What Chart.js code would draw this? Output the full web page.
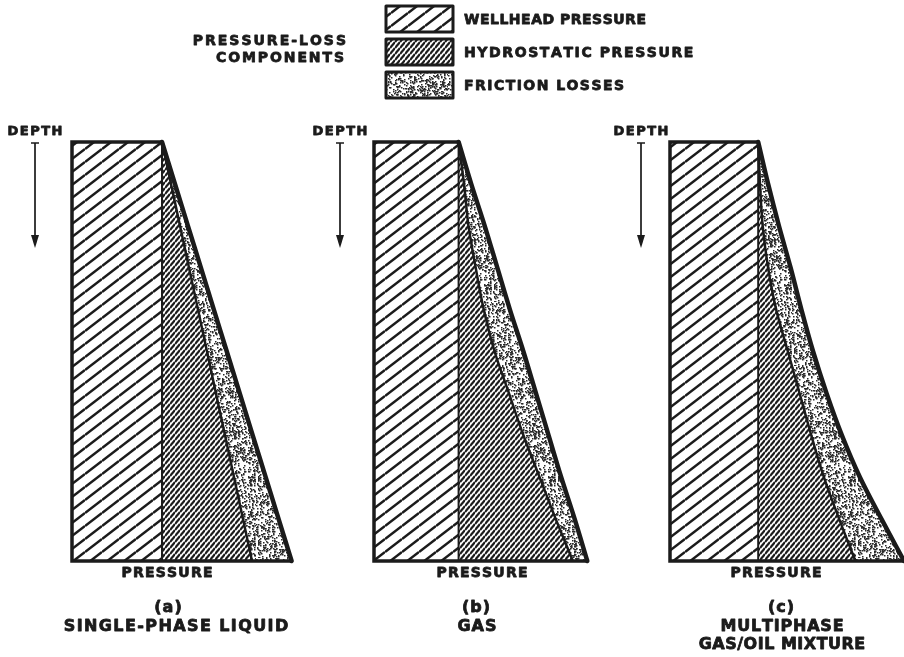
<!DOCTYPE html>
<html>
<head>
<meta charset="utf-8">
<script src="https://cdn.jsdelivr.net/npm/chart.js@4.4.1/dist/chart.umd.min.js"></script>
<style>
  html, body { margin: 0; padding: 0; background: #fff; }
  #wrap { position: relative; width: 904px; height: 657px; overflow: hidden; }
  #wrap canvas { position: absolute; }
</style>
</head>
<body>
<div id="wrap">
  <canvas id="legend" width="904" height="110" style="left:0;top:0"></canvas>
  <canvas id="panelA" width="300" height="547" style="left:0;top:110px"></canvas>
  <canvas id="panelB" width="300" height="547" style="left:300px;top:110px"></canvas>
  <canvas id="panelC" width="304" height="547" style="left:600px;top:110px"></canvas>
</div>
<script>
// depth in % of well depth, pressure in relative units (wellhead ~ 100)
var depth = [0, 10, 20, 30, 40, 50, 60, 70, 80, 90, 100];

// (a) single-phase liquid
var wellheadA = 100;
var hydroA    = [0, 10, 20, 30, 40, 50, 60, 70, 80, 90, 100];
var frictionA = [0, 4.4, 8.8, 13.2, 17.6, 22, 26.4, 30.8, 35.2, 39.6, 44];

// (b) gas
var wellheadB = 94;
var hydroB    = [0, 6, 11, 19, 28, 40, 56, 72, 90, 108, 127];
var frictionB = [0, 8, 18, 24, 29, 32, 30, 28, 24, 21, 16];

// (c) multiphase gas/oil mixture
var wellheadC = 98;
var hydroC    = [0, 2, 5, 11, 20, 33, 46, 59, 73, 90, 108];
var frictionC = [0, 9, 18, 25, 28, 28, 30, 34, 40, 47, 54];

var legendLabels = ['WELLHEAD PRESSURE', 'HYDROSTATIC PRESSURE', 'FRICTION LOSSES'];

var INK = '#1b1b1b';
var FONT = '"DejaVu Sans", "Liberation Sans", sans-serif';

// ---- fill patterns ----
function hatch(w, h, lw) {
  var c = document.createElement('canvas');
  c.width = w; c.height = h;
  var g = c.getContext('2d');
  g.strokeStyle = INK;
  g.lineWidth = lw;
  [-1, 0, 1].forEach(function (k) {
    g.beginPath();
    g.moveTo(0, h + k * h);
    g.lineTo(w, k * h);
    g.stroke();
  });
  return g.createPattern(c, 'repeat');
}

function stipple(size, n) {
  var c = document.createElement('canvas');
  c.width = size; c.height = size;
  var g = c.getContext('2d');
  g.fillStyle = '#2a2a2a';
  var s = 12345;
  function rnd() { s = (s * 1103515245 + 12345) % 2147483648; return s / 2147483648; }
  for (var i = 0; i < n; i++) {
    g.fillRect(Math.floor(rnd() * size), Math.floor(rnd() * size), 1.5, 1.5);
  }
  return g.createPattern(c, 'repeat');
}

var wideHatch = hatch(17, 13, 2.5);
var fineHatch = hatch(5, 6, 2.2);
var dots = stipple(64, 900);

function spacedText(ctx, text, x, y, spacing, align) {
  var chars = text.split('');
  var widths = chars.map(function (ch) { return ctx.measureText(ch).width; });
  var total = widths.reduce(function (a, b) { return a + b; }, 0) + spacing * (chars.length - 1);
  var px = align === 'center' ? x - total / 2 : (align === 'right' ? x - total : x);
  ctx.textAlign = 'left';
  ctx.textBaseline = 'middle';
  ctx.lineWidth = 0.8;
  ctx.lineJoin = 'round';
  chars.forEach(function (ch, i) {
    ctx.fillText(ch, px, y);
    ctx.strokeText(ch, px, y);
    px += widths[i] + spacing;
  });
}

// ---- legend block ----
(function () {
  var ctx = document.getElementById('legend').getContext('2d');
  ctx.fillStyle = INK;
  ctx.strokeStyle = INK;
  ctx.font = 'bold 14px ' + FONT;
  spacedText(ctx, 'PRESSURE-LOSS', 346, 41, 2, 'right');
  spacedText(ctx, 'COMPONENTS', 344, 58, 1.9, 'right');
  var fills = [wideHatch, fineHatch, dots];
  var boxY = [6, 39, 72];
  var textY = [20, 53, 86];
  var spacing = [0.5, 1.6, 1.45];
  for (var i = 0; i < 3; i++) {
    ctx.fillStyle = fills[i];
    ctx.fillRect(386, boxY[i], 67, 26);
    ctx.strokeStyle = INK;
    ctx.lineWidth = 3;
    ctx.strokeRect(386, boxY[i], 67, 26);
    ctx.fillStyle = INK;
    spacedText(ctx, legendLabels[i], 464, textY[i], spacing[i], 'left');
  }
})();

// ---- panels ----
function decor(p) {
  return {
    id: 'decor',
    afterDraw: function (chart) {
      var ctx = chart.ctx, a = chart.chartArea;
      ctx.save();
      ctx.fillStyle = INK;
      ctx.strokeStyle = INK;
      ctx.font = 'bold 13px ' + FONT;
      spacedText(ctx, 'DEPTH', p.arrowX, a.top - 10, 1.5, 'center');
      // depth arrow
      var top = a.top + 1, bot = a.top + 106;
      ctx.lineWidth = 1.7;
      ctx.beginPath();
      ctx.moveTo(p.arrowX - 4, top); ctx.lineTo(p.arrowX + 4, top);
      ctx.moveTo(p.arrowX, top); ctx.lineTo(p.arrowX, bot - 10);
      ctx.stroke();
      ctx.beginPath();
      ctx.moveTo(p.arrowX - 4, bot - 13);
      ctx.lineTo(p.arrowX + 4, bot - 13);
      ctx.lineTo(p.arrowX, bot);
      ctx.closePath();
      ctx.fill();
      ctx.font = 'bold 14px ' + FONT;
      spacedText(ctx, 'PRESSURE', p.labelX, a.bottom + 12, 1.2, 'center');
      ctx.font = 'bold 16px ' + FONT;
      p.caption.forEach(function (line, i) {
        spacedText(ctx, line, p.capX[i], a.bottom + 47 + i * 18.5, p.capSp[i], 'center');
      });
      ctx.restore();
    }
  };
}

function makePanel(id, wellhead, hydro, friction, p) {
  var last = depth.length - 1;
  var wh = depth.map(function (d) { return {x: wellhead, y: d}; });
  var hy = depth.map(function (d, i) { return {x: wellhead + hydro[i], y: d}; });
  var tot = depth.map(function (d, i) { return {x: wellhead + hydro[i] + friction[i], y: d}; });
  var outline = [
    {x: tot[last].x, y: depth[last]},
    {x: 0, y: depth[last]},
    {x: 0, y: depth[0]},
    {x: wellhead, y: depth[0]}
  ];

  var ctx = document.getElementById(id).getContext('2d');
  return new Chart(ctx, {
    type: 'line',
    data: {
      datasets: [{
        label: 'outline',
        data: outline,
        borderColor: INK,
        borderWidth: 3.5,
        fill: false,
        tension: 0,
        borderJoinStyle: 'miter',
        clip: false
      }, {
        label: legendLabels[0],
        data: wh,
        borderColor: INK,
        borderWidth: 2,
        backgroundColor: wideHatch,
        fill: 'origin'
      }, {
        label: legendLabels[1],
        data: hy,
        borderColor: INK,
        borderWidth: 2.5,
        backgroundColor: fineHatch,
        fill: '-1',
        cubicInterpolationMode: 'monotone'
      }, {
        label: legendLabels[2],
        data: tot,
        borderColor: INK,
        borderWidth: 4.5,
        backgroundColor: dots,
        fill: '-1',
        cubicInterpolationMode: 'monotone',
        clip: false
      }]
    },
    options: {
      indexAxis: 'y',
      responsive: false,
      animation: false,
      events: [],
      layout: { padding: { left: p.padLeft, right: p.padRight, top: 32, bottom: 96 } },
      elements: { point: { radius: 0 }, line: { borderCapStyle: 'round' } },
      scales: {
        x: { type: 'linear', min: 0, max: p.xMax, display: false },
        y: { type: 'linear', min: 0, max: 100, reverse: true, display: false }
      },
      plugins: {
        legend: { display: false },
        tooltip: { enabled: false }
      }
    },
    plugins: [decor(p)]
  });
}

makePanel('panelA', wellheadA, hydroA, frictionA, {
  padLeft: 72, padRight: 3, xMax: 250,
  arrowX: 35, labelX: 167,
  caption: ['(a)', 'SINGLE-PHASE LIQUID'], capX: [168, 176], capSp: [1, 1.4]
});
makePanel('panelB', wellheadB, hydroB, frictionB, {
  padLeft: 74, padRight: 1, xMax: 250,
  arrowX: 40, labelX: 182,
  caption: ['(b)', 'GAS'], capX: [176, 177], capSp: [1, 1]
});
makePanel('panelC', wellheadC, hydroC, frictionC, {
  padLeft: 70, padRight: 0, xMax: 260,
  arrowX: 41, labelX: 176,
  caption: ['(c)', 'MULTIPHASE', 'GAS/OIL MIXTURE'], capX: [181, 182, 182], capSp: [1, 0.8, 0.5]
});
</script>
</body>
</html>
